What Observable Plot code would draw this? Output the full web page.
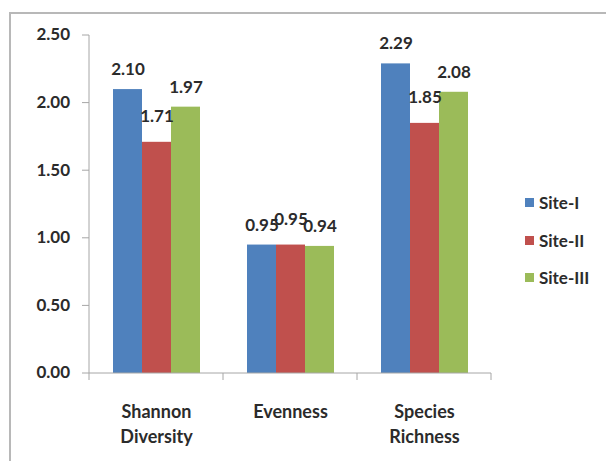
<!DOCTYPE html>
<html>
<head>
<meta charset="utf-8">
<script src="https://cdn.jsdelivr.net/npm/d3@7"></script>
<script src="https://cdn.jsdelivr.net/npm/@observablehq/plot@0.6"></script>
<style>
  html, body { margin: 0; padding: 0; background: #fff; overflow: hidden; }
  #wrap { position: relative; width: 606px; height: 461px; overflow: hidden; font-family: Lato, "Open Sans", sans-serif; }
  #frame { position: absolute; left: 9px; top: 12px; width: 640px; height: 480px; border: 2px solid #b8b8b8; box-sizing: border-box; }
  #chart { position: absolute; left: 0; top: 0; }
  #legend { position: absolute; left: 525px; top: 184px; }
  .item { display: flex; align-items: center; height: 37.5px; margin: 0; font-weight: 700; font-size: 17px; color: #2b2b2b; white-space: nowrap; }
  .sw { width: 9px; height: 9px; margin-right: 5px; flex: none; }
</style>
</head>
<body>
<div id="wrap">
  <div id="frame"></div>
  <div id="chart"></div>
  <div id="legend"></div>
</div>
<script>
// Diversity indices per sampling site
const categories = ["Shannon Diversity", "Evenness", "Species Richness"];
const sites = ["Site-I", "Site-II", "Site-III"];
const siteI = [2.10, 0.95, 2.29];
const siteII = [1.71, 0.95, 1.85];
const siteIII = [1.97, 0.94, 2.08];
const colors = ["#4f81bd", "#c0504d", "#9bbb59"];
const yTicks = [0, 0.5, 1, 1.5, 2, 2.5];

const series = [siteI, siteII, siteIII];
const rows = [];
categories.forEach((c, i) => {
  sites.forEach((s, j) => rows.push({category: c, site: s, value: series[j][i]}));
});

const textColor = "#2b2b2b";
const axisColor = "#a6a6a6";
const font = "Lato, 'Open Sans', sans-serif";

const plot = Plot.plot({
  width: 606,
  height: 461,
  marginLeft: 89,
  marginRight: 114,
  marginTop: 35,
  marginBottom: 88,
  style: {fontFamily: font, fontWeight: 700, fontSize: "17px", color: textColor, background: "transparent"},
  fx: {domain: categories, paddingInner: 0.34, paddingOuter: 0.17, label: null},
  x: {domain: sites, padding: 0, axis: null},
  y: {domain: [0, 2.5], axis: null},
  color: {domain: sites, range: colors},
  marks: [
    Plot.axisFx({anchor: "bottom", tickSize: 0, tickPadding: 27, lineWidth: 5.5, lineHeight: 1.39, fontSize: 18, fill: textColor, label: null}),
    Plot.barY(rows, {fx: "category", x: "site", y: "value", fill: "site"}),
    Plot.text(rows, {fx: "category", x: "site", y: "value", text: d => d.value.toFixed(2), lineAnchor: "middle", dy: -20, fontSize: 17, fill: textColor, className: "value-label"})
  ]
});
document.getElementById("chart").append(plot);

// Value labels that collide with both neighbours are lifted a little
d3.select(plot).selectAll("g.value-label").each(function () {
  const labels = Array.from(this.querySelectorAll("text"));
  const boxes = labels.map(t => t.getBBox());
  const hit = (a, b) => a.x < b.x + b.width && b.x < a.x + a.width && a.y < b.y + b.height && b.y < a.y + a.height;
  labels.forEach((t, i) => {
    if (i > 0 && i < labels.length - 1 && hit(boxes[i], boxes[i - 1]) && hit(boxes[i], boxes[i + 1])) {
      t.setAttribute("transform", `${t.getAttribute("transform") || ""} translate(0,-6)`);
    }
  });
});

// Axes drawn from the plot's own fx and y scales
const fx = plot.scale("fx");
const y = plot.scale("y");
const gap = fx.step - fx.bandwidth;
const bounds = [fx.apply(categories[0]) - gap / 2, ...categories.map(c => fx.apply(c) + fx.bandwidth + gap / 2)];
const svg = d3.select(plot);
const y0 = y.apply(0);
const left = bounds[0];
const axes = svg.append("g").attr("stroke", axisColor).attr("fill", "none");
// category axis: baseline with tick marks on the band boundaries
axes.append("line").attr("x1", left).attr("x2", bounds[bounds.length - 1]).attr("y1", y0).attr("y2", y0);
axes.selectAll("line.bound").data(bounds).join("line").attr("class", "bound")
  .attr("x1", d => d).attr("x2", d => d).attr("y1", y0).attr("y2", y0 + 7);
// value axis
axes.append("line").attr("x1", left).attr("x2", left).attr("y1", y.apply(2.5)).attr("y2", y0);
axes.selectAll("line.ytick").data(yTicks).join("line").attr("class", "ytick")
  .attr("x1", left - 7).attr("x2", left).attr("y1", d => y.apply(d)).attr("y2", d => y.apply(d));
svg.append("g").attr("font-size", 17).attr("font-weight", 700).attr("font-family", font).attr("fill", textColor)
  .selectAll("text").data(yTicks).join("text")
  .attr("x", left - 19).attr("y", d => y.apply(d)).attr("dy", "0.32em").attr("text-anchor", "end")
  .text(d3.format(".2f"));

// Legend
const legend = document.getElementById("legend");
sites.forEach((s, i) => {
  const item = document.createElement("div");
  item.className = "item";
  const sw = document.createElement("span");
  sw.className = "sw";
  sw.style.background = colors[i];
  item.append(sw, document.createTextNode(s));
  legend.append(item);
});
</script>
</body>
</html>
